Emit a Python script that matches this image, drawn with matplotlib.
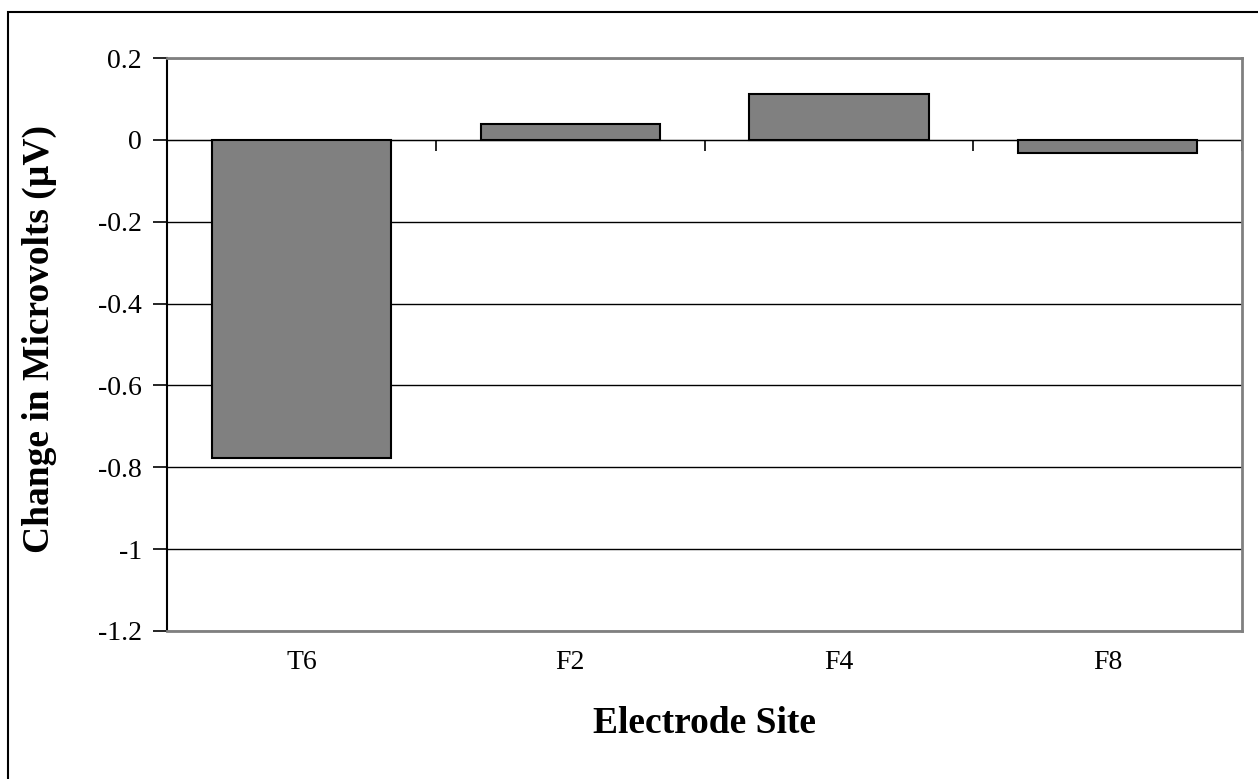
import matplotlib.pyplot as plt
from matplotlib.patches import Rectangle

# electrode sites and change in amplitude
sites = ["T6", "F2", "F4", "F8"]
change_uv = [-0.777, 0.038, 0.111, -0.031]

plt.rcParams['font.family'] = ['Liberation Serif', 'DejaVu Serif']

fig = plt.figure(figsize=(12.58, 7.79), dpi=100)
ax = fig.add_axes([0.1328, 0.19, 0.8545, 0.7355])

x = range(len(sites))
ax.bar(x, change_uv, width=0.667, color="#808080", edgecolor="black",
       linewidth=1.5, zorder=3)

ymin, ymax = -1.2, 0.2
ax.set_ylim(ymin, ymax)
ax.set_xlim(-0.5, len(sites) - 0.5)
ax.set_yticks([-1.2, -1.0, -0.8, -0.6, -0.4, -0.2, 0, 0.2])
ax.set_yticklabels(["-1.2", "-1", "-0.8", "-0.6", "-0.4", "-0.2", "0", "0.2"])
ax.yaxis.grid(True, color="black", linewidth=1.0, zorder=0)
ax.set_axisbelow(True)

ax.set_xticks(list(x))
ax.set_xticklabels(sites)
ax.tick_params(axis="x", length=0, labelsize=20, pad=14)
ax.tick_params(axis="y", length=10, width=1.2, labelsize=20, pad=8,
               direction="out")

for side in ["top", "right", "bottom"]:
    ax.spines[side].set_color("#808080")
    ax.spines[side].set_linewidth(2)
ax.spines["left"].set_color("black")
ax.spines["left"].set_linewidth(1.5)

# category axis crossing at zero with ticks between the bars
zero_ax = ax.secondary_xaxis((0 - ymin) / (ymax - ymin))
zero_ax.set_xticks([i - 0.5 for i in range(len(sites) + 1)])
zero_ax.set_xticklabels([])
zero_ax.tick_params(length=8, width=1.2, direction="in")
zero_ax.spines["bottom"].set_linewidth(1.2)

ax.set_xlabel("Electrode Site", fontsize=27, fontweight="bold", labelpad=22)
ax.set_ylabel("Change in Microvolts (\u00b5V)", fontsize=27,
              fontweight="bold")
ax.yaxis.set_label_coords(-0.102, 0.51)

# chart border
fig.patches.append(Rectangle((8 / 1258, -0.1), 1.2, 1 - 12 / 779 + 0.1,
                             transform=fig.transFigure, fill=False,
                             edgecolor="black", linewidth=1.5))

plt.savefig("out.png", dpi=100)
